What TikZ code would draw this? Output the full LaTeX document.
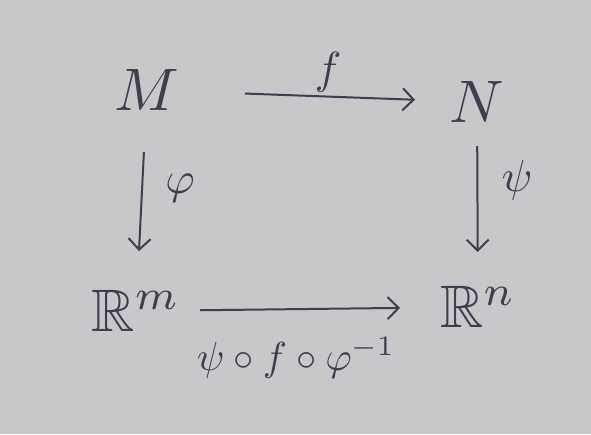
\documentclass[tikz,border=0pt]{standalone}
\usepackage{amssymb}
\usetikzlibrary{arrows.meta}
\definecolor{paper}{RGB}{200,200,202}
\definecolor{ink}{RGB}{62,62,80}
\tikzset{
  obj/.style={text=ink, inner sep=0pt, scale=6},
  lab/.style={text=ink, inner sep=0pt, scale=4.5},
  map/.style={draw=ink, line width=2pt, -{Straight Barb[length=11pt,width=22pt,line width=2pt]}}
}
\begin{document}
\begin{tikzpicture}[x=1pt,y=-1pt]
\fill[paper] (0,0) rectangle (591,434);
\useasboundingbox (0,0) rectangle (591,434);
\node[obj] (M) at (147,90) {$M$};
\node[obj] (N) at (477,102) {$N$};
\node[obj] (Rm) at (136,311) {$\mathbb{R}^m$};
\node[obj] (Rn) at (478,307) {$\mathbb{R}^n$};
\draw[map, shorten <=98pt, shorten >=62pt] (M.center) -- (N.center);
\draw[map, shorten <=62pt, shorten >=60pt] (M.center) -- (Rm.center);
\draw[map, shorten <=44pt, shorten >=55pt] (N.center) -- (Rn.center);
\draw[map, shorten <=64pt, shorten >=78pt] (Rm.center) -- (Rn.center);
\node[lab] (lf) at (328,72) {$f$};
\node[lab] (lphi) at (180,188) {$\varphi$};
\node[lab] (lpsi) at (517,180) {$\psi$};
\node[lab, scale=0.9] (lc) at (296,358) {$\psi\circ f\circ\varphi^{-1}$};
\end{tikzpicture}
\end{document}
